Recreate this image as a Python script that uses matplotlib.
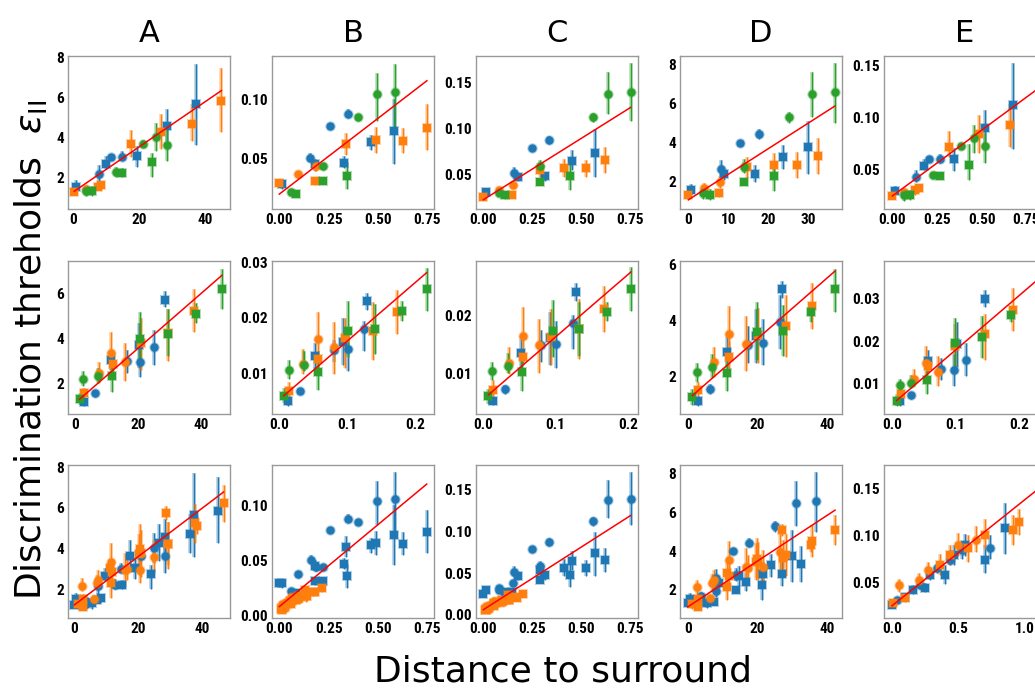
import numpy as np
import matplotlib
matplotlib.use("Agg")
import matplotlib.pyplot as plt
from matplotlib import font_manager as fm
from matplotlib.ticker import MultipleLocator

# each point: (x, y, err_low, err_high, kind)  kind: 'c' circle / 's' square
A1_blue = [(7.7, 2.16, 1.8, 2.6, 'c'), (11.4, 3.02, 2.9, 3.15, 'c'), (14.8, 3.01, 2.85, 3.3, 'c'),
           (0.8, 1.51, 1.3, 1.85, 's'), (9.8, 2.68, 2.4, 3.05, 's'), (19.2, 3.06, 2.5, 3.55, 's'),
           (28.5, 4.57, 3.8, 5.45, 's'), (37.4, 5.66, 3.6, 7.7, 's')]
A1_orange = [(3.9, 1.43, 1.3, 1.6, 'c'),
             (0.2, 1.24, 1.1, 1.4, 's'), (7.3, 1.5, 1.35, 1.65, 's'), (8.5, 1.6, 1.4, 1.8, 's'),
             (17.4, 3.66, 3.0, 4.4, 's'), (26.7, 4.28, 3.4, 5.2, 's'), (36.1, 4.7, 3.8, 5.7, 's'),
             (45.1, 5.85, 4.3, 7.5, 's')]
A1_green = [(3.9, 1.3, 1.05, 1.55, 'c'), (12.8, 2.24, 2.0, 2.5, 'c'), (21.1, 3.66, 3.5, 3.85, 'c'),
            (25.0, 4.03, 3.3, 4.75, 'c'), (28.4, 3.63, 2.8, 4.6, 'c'),
            (5.7, 1.32, 1.05, 1.55, 's'), (14.9, 2.23, 2.0, 2.45, 's'), (24.0, 2.75, 2.0, 3.2, 's')]

B1_blue = [(0.158, 0.0506, 0.047, 0.055, 'c'), (0.257, 0.0778, 0.076, 0.080, 'c'), (0.349, 0.0875, 0.084, 0.092, 'c'),
           (0.014, 0.0292, 0.025, 0.033, 's'), (0.179, 0.0453, 0.040, 0.050, 's'), (0.328, 0.0467, 0.042, 0.052, 's'),
           (0.464, 0.0639, 0.057, 0.070, 's'), (0.583, 0.0731, 0.046, 0.100, 's')]
B1_orange = [(0.094, 0.0372, 0.034, 0.040, 'c'), (0.184, 0.0439, 0.040, 0.048, 'c'),
             (0.0, 0.0294, 0.026, 0.032, 's'), (0.179, 0.0311, 0.028, 0.034, 's'), (0.338, 0.0625, 0.053, 0.072, 's'),
             (0.491, 0.0656, 0.055, 0.077, 's'), (0.628, 0.0653, 0.055, 0.076, 's'), (0.747, 0.0756, 0.057, 0.096, 's')]
B1_green = [(0.061, 0.0217, 0.019, 0.025, 'c'), (0.223, 0.0439, 0.041, 0.046, 'c'), (0.401, 0.085, 0.082, 0.088, 'c'),
            (0.497, 0.1044, 0.082, 0.122, 'c'), (0.588, 0.1058, 0.075, 0.130, 'c'),
            (0.085, 0.0203, 0.018, 0.024, 's'), (0.221, 0.0311, 0.029, 0.033, 's'), (0.342, 0.0356, 0.025, 0.047, 's')]

C1_blue = [(0.156, 0.0518, 0.045, 0.058, 'c'), (0.25, 0.0784, 0.076, 0.081, 'c'), (0.337, 0.0875, 0.083, 0.092, 'c'),
           (0.014, 0.030, 0.025, 0.034, 's'), (0.175, 0.0464, 0.042, 0.050, 's'), (0.318, 0.0475, 0.042, 0.052, 's'),
           (0.452, 0.0645, 0.054, 0.076, 's'), (0.570, 0.0736, 0.047, 0.100, 's')]
C1_orange = [(0.079, 0.0322, 0.029, 0.036, 'c'), (0.154, 0.0384, 0.035, 0.042, 'c'),
             (0.0, 0.0253, 0.022, 0.028, 's'), (0.149, 0.0275, 0.025, 0.030, 's'), (0.288, 0.054, 0.047, 0.060, 's'),
             (0.411, 0.0565, 0.047, 0.067, 's'), (0.526, 0.0565, 0.047, 0.066, 's'), (0.625, 0.0656, 0.051, 0.080, 's')]
C1_green = [(0.08, 0.0293, 0.026, 0.034, 'c'), (0.288, 0.0591, 0.055, 0.065, 'c'), (0.563, 0.1122, 0.107, 0.117, 'c'),
            (0.639, 0.1376, 0.116, 0.162, 'c'), (0.755, 0.1395, 0.108, 0.172, 'c'),
            (0.113, 0.0275, 0.023, 0.032, 's'), (0.288, 0.0416, 0.038, 0.045, 's'), (0.442, 0.0475, 0.033, 0.062, 's')]

D1_blue = [(8.1, 2.63, 2.2, 3.1, 'c'), (13.0, 3.99, 3.85, 4.1, 'c'), (17.7, 4.44, 4.2, 4.7, 'c'),
           (0.67, 1.54, 1.3, 1.85, 's'), (9.05, 2.37, 2.1, 2.6, 's'), (16.8, 2.39, 1.95, 2.85, 's'),
           (23.8, 3.28, 2.65, 3.85, 's'), (30.0, 3.75, 2.4, 5.1, 's')]
D1_orange = [(3.94, 1.66, 1.4, 1.9, 'c'), (8.0, 1.95, 1.65, 2.3, 'c'),
             (0.0, 1.32, 1.15, 1.5, 's'), (7.7, 1.39, 1.2, 1.6, 's'), (14.8, 2.73, 2.2, 3.25, 's'),
             (21.5, 2.83, 2.2, 3.45, 's'), (27.2, 2.83, 2.2, 3.5, 's'), (32.6, 3.31, 2.4, 4.25, 's')]
D1_green = [(3.6, 1.39, 1.1, 1.65, 'c'), (14.0, 2.77, 2.45, 3.15, 'c'), (25.2, 5.29, 5.0, 5.55, 'c'),
            (31.0, 6.48, 5.3, 7.6, 'c'), (36.8, 6.57, 5.0, 8.1, 'c'),
            (5.45, 1.32, 1.05, 1.6, 's'), (14.0, 1.97, 1.85, 2.1, 's'), (21.4, 2.26, 1.5, 2.95, 's')]

E1_blue = [(0.134, 0.0436, 0.038, 0.050, 'c'), (0.207, 0.0602, 0.058, 0.062, 'c'), (0.269, 0.0602, 0.057, 0.065, 'c'),
           (0.013, 0.0302, 0.027, 0.035, 's'), (0.175, 0.0535, 0.050, 0.060, 's'), (0.347, 0.0609, 0.049, 0.071, 's'),
           (0.517, 0.0903, 0.073, 0.107, 's'), (0.677, 0.1117, 0.070, 0.152, 's')]
E1_orange = [(0.063, 0.0292, 0.027, 0.031, 'c'),
             (0.0, 0.0254, 0.023, 0.028, 's'), (0.129, 0.0308, 0.026, 0.034, 's'), (0.149, 0.0324, 0.029, 0.036, 's'),
             (0.315, 0.0724, 0.062, 0.087, 's'), (0.487, 0.0845, 0.066, 0.103, 's'), (0.657, 0.0928, 0.072, 0.113, 's')]
E1_green = [(0.065, 0.026, 0.020, 0.030, 'c'), (0.228, 0.0449, 0.042, 0.048, 'c'), (0.382, 0.073, 0.071, 0.075, 'c'),
            (0.455, 0.0803, 0.066, 0.093, 'c'), (0.517, 0.0727, 0.057, 0.085, 'c'),
            (0.099, 0.0264, 0.021, 0.031, 's'), (0.269, 0.0446, 0.041, 0.048, 's'), (0.431, 0.0548, 0.040, 0.075, 's')]

A2_blue = [(6.35, 1.55, 1.4, 1.7, 'c'), (16.6, 2.99, 2.45, 3.5, 'c'), (20.7, 2.96, 2.3, 3.6, 'c'), (25.1, 3.6, 2.8, 4.4, 'c'),
           (2.75, 1.15, 1.0, 1.3, 's'), (11.4, 3.06, 2.6, 3.5, 's'), (20.4, 3.72, 2.7, 4.7, 's'), (28.7, 5.73, 5.4, 6.1, 's')]
A2_orange = [(7.5, 2.45, 2.0, 2.95, 'c'), (11.5, 3.34, 2.5, 4.3, 'c'), (15.9, 2.94, 2.1, 3.8, 'c'),
             (2.75, 1.55, 1.3, 1.8, 's'), (12.0, 2.84, 2.3, 3.4, 's'), (21.0, 3.79, 2.6, 4.9, 's'),
             (29.5, 4.24, 3.0, 5.3, 's'), (37.8, 5.25, 4.3, 6.2, 's')]
A2_green = [(2.6, 2.19, 1.9, 2.55, 'c'), (7.1, 2.31, 2.0, 2.7, 'c'),
            (1.4, 1.3, 1.05, 1.55, 's'), (11.6, 2.33, 1.6, 3.1, 's'), (20.7, 3.99, 2.9, 5.2, 's'),
            (29.4, 4.21, 3.2, 5.3, 's'), (38.4, 5.1, 4.7, 5.6, 's'), (46.7, 6.22, 5.3, 7.1, 's')]

B2_blue = [(0.0296, 0.0070, 0.0065, 0.0075, 'c'), (0.0805, 0.0143, 0.0122, 0.016, 'c'),
           (0.1017, 0.0145, 0.0105, 0.017, 'c'), (0.125, 0.0181, 0.014, 0.0195, 'c'),
           (0.0128, 0.00504, 0.0043, 0.0058, 's'), (0.0523, 0.0131, 0.011, 0.0156, 's'),
           (0.0933, 0.0157, 0.0115, 0.020, 's'), (0.1289, 0.0231, 0.0215, 0.0245, 's')]
B2_orange = [(0.035, 0.0117, 0.010, 0.0145, 'c'), (0.0573, 0.0163, 0.0128, 0.021, 'c'), (0.08, 0.0148, 0.010, 0.0193, 'c'),
             (0.0138, 0.0070, 0.0055, 0.0085, 's'), (0.0573, 0.0127, 0.011, 0.014, 's'),
             (0.0968, 0.0164, 0.011, 0.020, 's'), (0.1373, 0.0176, 0.0125, 0.0228, 's'),
             (0.1728, 0.021, 0.0172, 0.025, 's')]
B2_green = [(0.0138, 0.0107, 0.009, 0.0124, 'c'), (0.036, 0.0116, 0.0105, 0.014, 'c'),
            (0.0064, 0.0061, 0.0048, 0.0075, 's'), (0.0573, 0.0104, 0.0071, 0.0123, 's'),
            (0.1012, 0.0176, 0.013, 0.023, 's'), (0.1412, 0.018, 0.0135, 0.0225, 's'),
            (0.1812, 0.0212, 0.0195, 0.023, 's'), (0.2168, 0.0251, 0.0213, 0.0289, 's')]

C2_blue = [(0.0311, 0.00731, 0.0066, 0.008, 'c'), (0.0805, 0.0149, 0.012, 0.0175, 'c'),
           (0.1011, 0.0151, 0.011, 0.019, 'c'), (0.1231, 0.0187, 0.0143, 0.020, 'c'),
           (0.0137, 0.00531, 0.0046, 0.006, 's'), (0.0522, 0.0136, 0.011, 0.016, 's'),
           (0.0924, 0.0162, 0.0115, 0.0205, 's'), (0.1272, 0.024, 0.0225, 0.0255, 's')]
C2_orange = [(0.0362, 0.0118, 0.010, 0.0145, 'c'), (0.0558, 0.0165, 0.012, 0.0215, 'c'), (0.0778, 0.0149, 0.0102, 0.0193, 'c'),
             (0.0137, 0.00714, 0.0057, 0.009, 's'), (0.0558, 0.0129, 0.0115, 0.014, 's'),
             (0.0934, 0.0163, 0.0115, 0.021, 's'), (0.1318, 0.0177, 0.0125, 0.0228, 's'),
             (0.1661, 0.0211, 0.0172, 0.025, 's')]
C2_green = [(0.0128, 0.0105, 0.009, 0.012, 'c'), (0.0348, 0.0113, 0.0102, 0.0135, 'c'),
            (0.0078, 0.00617, 0.0048, 0.0074, 's'), (0.0545, 0.0103, 0.0071, 0.0122, 's'),
            (0.0957, 0.0173, 0.0128, 0.0226, 's'), (0.1318, 0.0176, 0.013, 0.0222, 's'),
            (0.1703, 0.0206, 0.019, 0.0222, 's'), (0.2032, 0.0245, 0.0207, 0.0283, 's')]

D2_blue = [(6.42, 1.56, 1.4, 1.75, 'c'), (17.2, 3.13, 2.5, 3.8, 'c'), (21.5, 3.19, 2.4, 4.05, 'c'), (26.4, 3.96, 3.0, 4.9, 'c'),
           (2.88, 1.12, 0.95, 1.3, 's'), (11.2, 2.87, 2.3, 3.4, 's'), (19.7, 3.44, 2.5, 4.4, 's'), (27.2, 5.11, 4.8, 5.4, 's')]
D2_orange = [(7.57, 2.51, 2.0, 3.05, 'c'), (11.9, 3.52, 2.6, 4.5, 'c'), (16.7, 3.17, 2.2, 4.15, 'c'),
             (3.07, 1.54, 1.3, 1.8, 's'), (11.9, 2.71, 2.2, 3.25, 's'), (20.1, 3.49, 2.5, 4.45, 's'),
             (28.1, 3.8, 2.7, 4.9, 's'), (35.6, 4.51, 3.7, 5.35, 's')]
D2_green = [(2.68, 2.15, 1.8, 2.5, 'c'), (7.1, 2.36, 1.95, 2.8, 'c'),
            (1.34, 1.26, 1.0, 1.55, 's'), (11.4, 2.14, 1.5, 2.8, 's'), (19.9, 3.6, 2.6, 4.65, 's'),
            (27.5, 3.64, 2.75, 4.55, 's'), (35.4, 4.32, 3.95, 4.6, 's'), (42.3, 5.11, 4.3, 5.85, 's')]

E2_blue = [(0.0294, 0.00733, 0.0065, 0.008, 'c'), (0.0777, 0.0135, 0.011, 0.016, 'c'),
           (0.0971, 0.0133, 0.0095, 0.017, 'c'), (0.1165, 0.0156, 0.0118, 0.0195, 'c'),
           (0.0131, 0.00592, 0.0048, 0.0072, 's'), (0.0562, 0.0153, 0.0125, 0.018, 's'),
           (0.1024, 0.0193, 0.014, 0.0245, 's'), (0.1459, 0.0299, 0.028, 0.032, 's')]
E2_orange = [(0.0346, 0.0111, 0.0095, 0.0135, 'c'), (0.053, 0.0148, 0.0115, 0.019, 'c'), (0.0719, 0.0127, 0.0095, 0.0165, 'c'),
             (0.0142, 0.0075, 0.006, 0.009, 's'), (0.0572, 0.0141, 0.0125, 0.0155, 's'),
             (0.0997, 0.019, 0.014, 0.024, 's'), (0.147, 0.0218, 0.0155, 0.0265, 's'),
             (0.1906, 0.0273, 0.0225, 0.0325, 's')]
E2_green = [(0.0126, 0.0097, 0.0083, 0.0112, 'c'), (0.0304, 0.0102, 0.009, 0.012, 'c'),
            (0.0073, 0.0059, 0.0047, 0.0075, 's'), (0.0546, 0.0109, 0.0075, 0.013, 's'),
            (0.0987, 0.0195, 0.014, 0.0255, 's'), (0.1417, 0.021, 0.016, 0.026, 's'),
            (0.1879, 0.0262, 0.0245, 0.028, 's')]

# bottom-right panel has its own pooled set
E3_blue = [(0.04, 0.031, 0.028, 0.034, 'c'), (0.21, 0.047, 0.043, 0.051, 'c'), (0.34, 0.065, 0.060, 0.070, 'c'),
           (0.44, 0.074, 0.068, 0.080, 'c'), (0.53, 0.084, 0.075, 0.092, 'c'), (0.74, 0.087, 0.075, 0.100, 'c'),
           (0.0, 0.026, 0.023, 0.029, 's'), (0.10, 0.034, 0.030, 0.038, 's'), (0.16, 0.042, 0.038, 0.047, 's'),
           (0.25, 0.044, 0.040, 0.049, 's'), (0.29, 0.058, 0.052, 0.064, 's'), (0.40, 0.058, 0.048, 0.068, 's'),
           (0.47, 0.079, 0.068, 0.090, 's'), (0.55, 0.090, 0.078, 0.102, 's'), (0.70, 0.074, 0.060, 0.090, 's'),
           (0.85, 0.108, 0.080, 0.135, 's')]
E3_orange = [(0.05, 0.047, 0.040, 0.054, 'c'), (0.20, 0.052, 0.045, 0.060, 'c'), (0.27, 0.063, 0.055, 0.072, 'c'),
             (0.50, 0.090, 0.078, 0.103, 'c'), (0.63, 0.095, 0.082, 0.110, 'c'),
             (0.01, 0.028, 0.025, 0.031, 's'), (0.10, 0.033, 0.029, 0.038, 's'), (0.36, 0.068, 0.058, 0.080, 's'),
             (0.44, 0.079, 0.068, 0.090, 's'), (0.57, 0.087, 0.072, 0.100, 's'), (0.70, 0.100, 0.085, 0.118, 's'),
             (0.91, 0.106, 0.090, 0.122, 's'), (0.96, 0.114, 0.100, 0.128, 's')]

# fitted lines: slope, intercept, x end
fits_row1 = [(0.1129, 1.27, 45.1), (0.1274, 0.0203, 0.748), (0.1339, 0.022, 0.755), (0.1307, 1.06, 36.8), (0.1259, 0.0251, 0.86)]
fits_row2 = [(0.122, 1.12, 46.7), (0.1047, 0.0054, 0.2168), (0.1077, 0.00554, 0.2032), (0.1083, 1.18, 42.3), (0.128, 0.00514, 0.245)]
fits_row3 = [(0.119, 1.22, 46.7), (0.1488, 0.008, 0.748), (0.150, 0.006, 0.755), (0.118, 1.12, 42.3), (0.113, 0.025, 1.15)]

cols = ['A', 'B', 'C', 'D', 'E']
row1 = [[A1_blue, A1_orange, A1_green], [B1_blue, B1_orange, B1_green], [C1_blue, C1_orange, C1_green],
        [D1_blue, D1_orange, D1_green], [E1_blue, E1_orange, E1_green]]
row2 = [[A2_blue, A2_orange, A2_green], [B2_blue, B2_orange, B2_green], [C2_blue, C2_orange, C2_green],
        [D2_blue, D2_orange, D2_green], [E2_blue, E2_orange, E2_green]]
# bottom row pools the first two rows
row3 = [[r1[0] + r1[1] + r1[2], r2[0] + r2[1] + r2[2]] for r1, r2 in zip(row1[:4], row2[:4])]
row3.append([E3_blue, E3_orange])

# axis limits and tick steps
lims = [
    [((-1.7, 47.7), (0.4, 8.1)), ((-0.037, 0.784), (0.0078, 0.1364)), ((-0.038, 0.793), (0.0118, 0.1795)),
     ((-2.1, 38.6), (0.59, 8.44)), ((-0.047, 0.86), (0.0126, 0.159))],
    [((-2.3, 49.3), (0.63, 7.46)), ((-0.011, 0.2277), (0.0028, 0.0302)), ((-0.0092, 0.2128), (0.0031, 0.0293)),
     ((-2.2, 44.3), (0.67, 6.12)), ((-0.0126, 0.2425), (0.0029, 0.0389))],
    [((-1.8, 48.7), (0.6, 8.1)), ((-0.0375, 0.785), (-0.0024, 0.1367)), ((-0.038, 0.793), (-0.004, 0.18)),
     ((-2.2, 44.3), (0.55, 8.44)), ((-0.06, 1.16), (0.012, 0.175))],
]
steps = [[(20, 2), (0.25, 0.05), (0.25, 0.05), (10, 2), (0.25, 0.05)],
         [(20, 2), (0.1, 0.01), (0.1, 0.01), (20, 2), (0.1, 0.01)],
         [(20, 2), (0.25, 0.05), (0.25, 0.05), (20, 2), (0.5, 0.05)]]

colors = ['#1f77b4', '#ff7f0e', '#2ca02c']
markers = {'c': 'o', 's': 's'}


def pick_tick_font():
    names = {f.name for f in fm.fontManager.ttflist}
    for fam in ['Liberation Sans Narrow', 'Arial Narrow', 'Roboto Condensed', 'Noto Sans Condensed',
                'Open Sans Condensed', 'DejaVu Sans Condensed']:
        if fam in names:
            return fam, 'normal', 11
    for f in fm.fontManager.ttflist:
        if f.stretch in ('condensed', 'semi-condensed') and 'Sans' in f.name:
            return f.name, f.stretch, 11
    return 'Liberation Sans', 'normal', 10


tick_family, tick_stretch, tick_size = pick_tick_font()


def draw_series(ax, pts, color):
    for kind in ['c', 's']:
        sel = [p for p in pts if p[4] == kind]
        if not sel:
            continue
        x = np.array([p[0] for p in sel])
        y = np.array([p[1] for p in sel])
        lo = np.array([p[2] for p in sel])
        hi = np.array([p[3] for p in sel])
        err = [y - lo, hi - y]
        ax.errorbar(x, y, yerr=err, fmt=markers[kind], color=color, ms=7.5, mew=0,
                    elinewidth=2.6, capsize=0, alpha=0.35)
        ax.errorbar(x, y, yerr=err, fmt=markers[kind], color=color, ms=6, mew=0,
                    elinewidth=1.0, capsize=0)


fig = plt.figure(figsize=(10.35, 6.91), dpi=100)
W, H = 1035.0, 691.0
lefts = [68, 272, 476, 680, 884]
tops = [56, 261, 465]
aw, ah = 162, 153

rows = [row1, row2, row3]
fits = [fits_row1, fits_row2, fits_row3]
for r in range(3):
    for c in range(5):
        ax = fig.add_axes([lefts[c] / W, 1 - (tops[r] + ah) / H, aw / W, ah / H])
        series = rows[r][c]
        for s, col in zip(series, colors):
            draw_series(ax, s, col)
        allx = [p[0] for s in series for p in s]
        k, b, xend = fits[r][c]
        xs = np.array([min(allx), xend])
        ax.plot(xs, k * xs + b, color='red', lw=1.1, zorder=5)
        (x0, x1), (y0, y1) = lims[r][c]
        ax.set_xlim(x0, x1)
        ax.set_ylim(y0, y1)
        ax.xaxis.set_major_locator(MultipleLocator(steps[r][c][0]))
        ax.yaxis.set_major_locator(MultipleLocator(steps[r][c][1]))
        ax.tick_params(length=0, pad=3)
        for lab in ax.get_xticklabels() + ax.get_yticklabels():
            lab.set_family(tick_family)
            lab.set_stretch(tick_stretch)
            lab.set_fontweight('bold')
            lab.set_fontsize(tick_size)
        for sp in ax.spines.values():
            sp.set_color('#999999')
            sp.set_linewidth(1.0)
        if r == 0:
            ax.set_title(cols[c], fontsize=22, pad=10)

fig.text(0.029, 0.493, r'Discrimination threholds  $\varepsilon_{\rm II}$', rotation=90,
         fontsize=26, ha='center', va='center')
fig.text(0.544, 0.028, 'Distance to surround', fontsize=26, ha='center', va='center')

fig.savefig('out.png', dpi=100)
